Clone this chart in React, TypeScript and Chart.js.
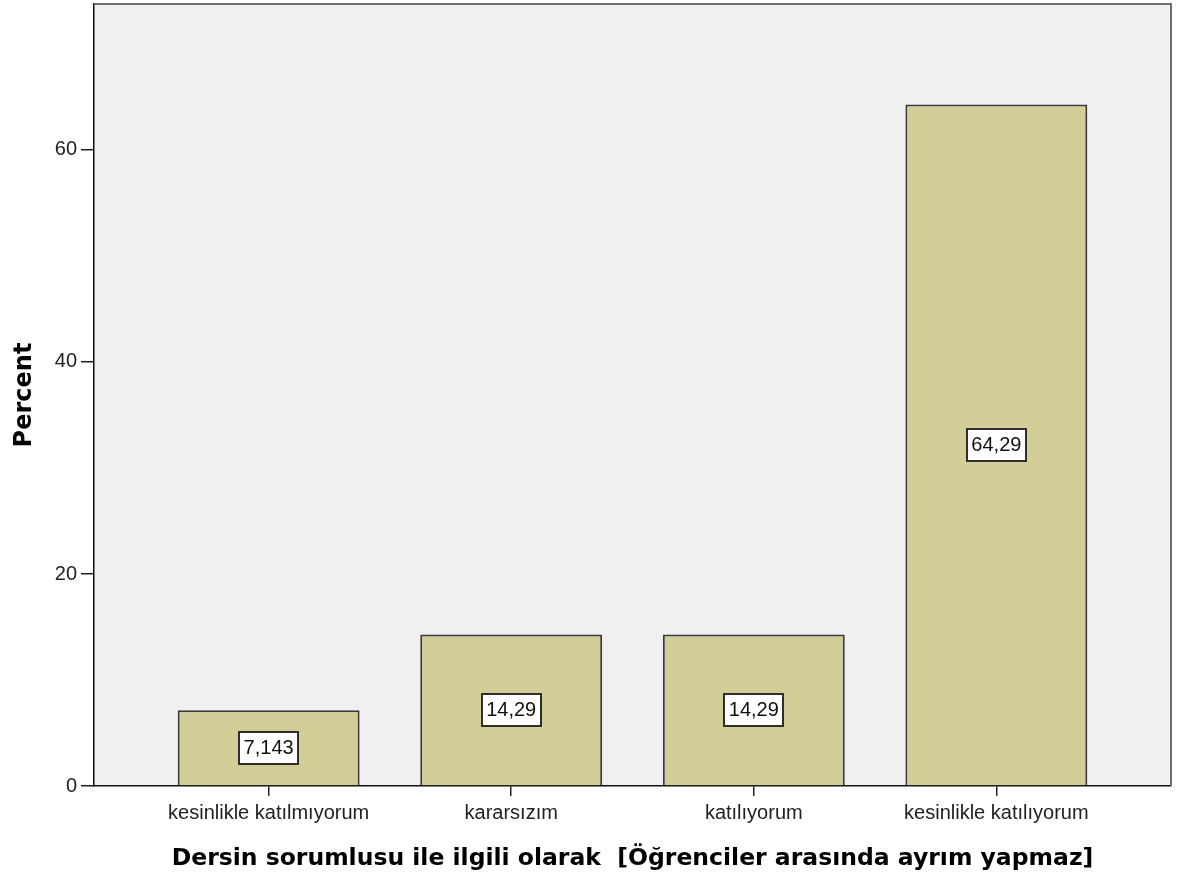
import React, { useEffect, useRef } from "react";
import { Chart, registerables } from "chart.js";

Chart.register(...registerables);

const categories = [
  "kesinlikle katılmıyorum",
  "kararsızım",
  "katılıyorum",
  "kesinlikle katılıyorum",
];
const percentValues = [7.143, 14.29, 14.29, 64.29];
const yTickValues = [0, 20, 40, 60];
const yAxisMax = 73.77;
const xAxisTitle = "Dersin sorumlusu ile ilgili olarak  [Öğrenciler arasında ayrım yapmaz]";
const yAxisTitle = "Percent";

const plotBackground = {
  id: "plotBackground",
  beforeDraw(chart: any) {
    const { ctx, chartArea } = chart;
    ctx.save();
    ctx.fillStyle = "#f0f0f0";
    ctx.fillRect(chartArea.left, chartArea.top, chartArea.right - chartArea.left, chartArea.bottom - chartArea.top);
    ctx.restore();
  },
  afterDraw(chart: any) {
    const { ctx, chartArea } = chart;
    ctx.save();
    ctx.strokeStyle = "#6e6e6e";
    ctx.lineWidth = 2;
    ctx.beginPath();
    ctx.moveTo(chartArea.left, chartArea.top);
    ctx.lineTo(chartArea.right, chartArea.top);
    ctx.lineTo(chartArea.right, chartArea.bottom);
    ctx.stroke();
    ctx.restore();
  },
};

const valueBoxes = {
  id: "valueBoxes",
  afterDatasetsDraw(chart: any) {
    const { ctx } = chart;
    const meta = chart.getDatasetMeta(0);
    ctx.save();
    ctx.font = "20px 'Liberation Sans', Arial, sans-serif";
    ctx.textAlign = "center";
    ctx.textBaseline = "middle";
    meta.data.forEach((bar: any, i: number) => {
      const text = String(percentValues[i]).replace(".", ",");
      const cx = bar.x;
      const cy = (bar.y + bar.base) / 2;
      const w = ctx.measureText(text).width + 9;
      const h = 32;
      ctx.fillStyle = "#ffffff";
      ctx.fillRect(Math.round(cx - w / 2), Math.round(cy - h / 2), Math.round(w), h);
      ctx.strokeStyle = "#2e2e2e";
      ctx.lineWidth = 2;
      ctx.strokeRect(Math.round(cx - w / 2), Math.round(cy - h / 2), Math.round(w), h);
      ctx.fillStyle = "#111111";
      ctx.fillText(text, cx, cy + 1);
    });
    ctx.restore();
  },
};

export default function App() {
  const canvasRef = useRef<HTMLCanvasElement | null>(null);

  useEffect(() => {
    document.body.style.margin = "0";
    const canvas = canvasRef.current;
    if (!canvas) return;
    const chart = new Chart(canvas, {
      type: "bar",
      data: {
        datasets: [
          {
            data: percentValues.map((v, i) => ({ x: i, y: v })),
            backgroundColor: "#d3ce97",
            borderColor: "#3a3a3a",
            borderWidth: 2,
            barPercentage: 0.75,
            categoryPercentage: 1,
          },
        ],
      },
      options: {
        animation: false,
        responsive: false,
        maintainAspectRatio: false,
        layout: { padding: { top: 4, right: 9, bottom: 0, left: 0 } },
        plugins: {
          legend: { display: false },
          tooltip: { enabled: false },
        },
        scales: {
          x: {
            type: "linear",
            min: -0.72,
            max: 3.72,
            offset: false,
            afterBuildTicks: (scale: any) => {
              scale.ticks = categories.map((_, i) => ({ value: i }));
            },
            afterFit: (scale: any) => {
              scale.height = 98;
              scale.paddingLeft = 0;
              scale.paddingRight = 0;
              scale.paddingTop = 0;
              scale.paddingBottom = 0;
            },
            ticks: {
              callback: (v: any) => categories[v as number] ?? "",
              font: { family: "'Liberation Sans', Arial, sans-serif", size: 20 },
              color: "#222222",
              padding: 5,
              maxRotation: 0,
              autoSkip: false,
            },
            grid: {
              offset: false,
              drawOnChartArea: false,
              drawTicks: true,
              tickLength: 10,
              color: "#222222",
              lineWidth: 1.5,
            },
            border: { display: true, color: "#111111", width: 1.5 },
            title: {
              display: true,
              text: xAxisTitle,
              font: { family: "'DejaVu Sans', sans-serif", size: 23.5, weight: "bold" },
              color: "#000000",
              padding: { top: 0, bottom: 11 },
            },
          },
          y: {
            type: "linear",
            min: 0,
            max: yAxisMax,
            afterBuildTicks: (scale: any) => {
              scale.ticks = yTickValues.map((v) => ({ value: v }));
            },
            afterFit: (scale: any) => {
              scale.width = 94;
              scale.paddingLeft = 0;
              scale.paddingRight = 0;
              scale.paddingTop = 0;
              scale.paddingBottom = 0;
            },
            ticks: {
              font: { family: "'Liberation Sans', Arial, sans-serif", size: 20 },
              color: "#222222",
              padding: 4,
            },
            grid: {
              drawOnChartArea: false,
              drawTicks: true,
              tickLength: 13,
              color: "#222222",
              lineWidth: 1.5,
            },
            border: { display: true, color: "#111111", width: 1.5 },
            title: {
              display: true,
              text: yAxisTitle,
              font: { family: "'DejaVu Sans', sans-serif", size: 24, weight: "bold" },
              color: "#000000",
              padding: { top: 10, bottom: 0 },
            },
          },
        },
      },
      plugins: [plotBackground, valueBoxes],
    } as any);
    return () => chart.destroy();
  }, []);

  return (
    <div style={{ width: 1180, height: 884, background: "#ffffff" }}>
      <canvas ref={canvasRef} width={1180} height={884} style={{ display: "block" }} />
    </div>
  );
}
